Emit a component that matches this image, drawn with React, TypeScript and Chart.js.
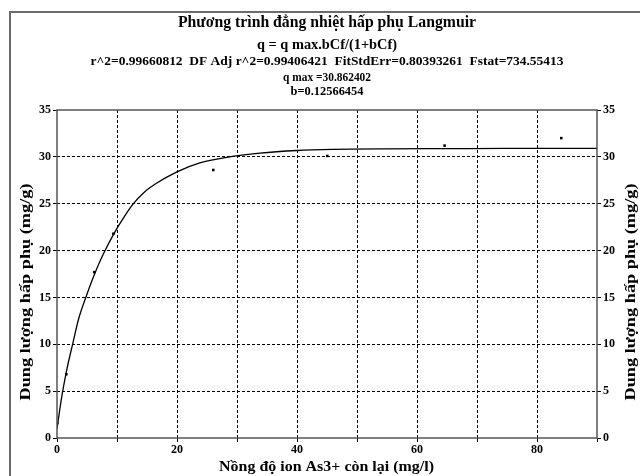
import React, { useEffect, useRef } from "react";
import { Chart, registerables } from "chart.js";

Chart.register(...registerables);

const titleLines = [
  "Phương trình đẳng nhiệt hấp phụ Langmuir",
  "q = q max.bCf/(1+bCf)",
  "r^2=0.99660812  DF Adj r^2=0.99406421  FitStdErr=0.80393261  Fstat=734.55413",
  "q max =30.862402",
  "b=0.12566454",
];
const xTitle = "Nồng độ ion As3+ còn lại (mg/l)";
const yTitle = "Dung lượng hấp phụ (mg/g)";

const obsX = [0.05, 1.55, 6.2, 9.4, 26.05, 45.05, 64.6, 84.05];
const obsY = [1.6, 6.8, 17.7, 21.8, 28.6, 30.1, 31.2, 32.0];

const curveX = [0, 0.5, 0.95, 1.6, 2.6, 3.6, 4.8, 6.2, 7.7, 9.4, 11, 12.6, 14.5, 16.5, 20, 23.8, 28.3, 33.8, 40, 46, 55, 65, 75, 90];
const curveY = [1.0, 3.2, 5.0, 7.2, 10.0, 12.7, 15.0, 17.4, 19.6, 21.7, 23.4, 24.9, 26.2, 27.15, 28.4, 29.35, 29.95, 30.4, 30.68, 30.8, 30.86, 30.88, 30.9, 30.9];

const xMin = 0, xMax = 90, xStep = 10;
const yMin = 0, yMax = 35, yStep = 5;
const xLabeled = [0, 20, 40, 60, 80];

const FONT = '"Liberation Serif", "Times New Roman", serif';

function fitText(ctx: any, text: string, x: number, y: number, size: number, width: number | null) {
  ctx.font = `bold ${size}px ${FONT}`;
  const w = ctx.measureText(text).width;
  ctx.save();
  ctx.translate(x, y);
  if (width) ctx.scale(width / w, 1);
  ctx.fillText(text, 0, 0);
  ctx.restore();
}

const decorPlugin = {
  id: "decor",
  beforeDraw(chart: any) {
    const ctx = chart.ctx;
    ctx.save();
    ctx.fillStyle = "#fff";
    ctx.fillRect(0, 0, chart.width, chart.height);
    ctx.strokeStyle = "#6b6b6b";
    ctx.lineWidth = 2;
    ctx.beginPath();
    ctx.moveTo(10, chart.height);
    ctx.lineTo(10, 12);
    ctx.lineTo(chart.width, 12);
    ctx.stroke();
    ctx.restore();
  },
  afterDraw(chart: any) {
    const ctx = chart.ctx;
    const a = chart.chartArea;
    ctx.save();
    ctx.strokeStyle = "#555";
    ctx.lineWidth = 1.5;
    ctx.strokeRect(a.left, a.top, a.right - a.left, a.bottom - a.top);
    ctx.fillStyle = "#000";
    ctx.textAlign = "center";
    ctx.textBaseline = "middle";
    const cx = (a.left + a.right) / 2;
    const sizes = [16, 14.5, 11.5, 12, 12];
    const widths = [298, 140, 473, 88, 73];
    const ys = [23, 45, 62, 78, 92];
    titleLines.forEach((t, i) => fitText(ctx, t, cx, ys[i], sizes[i], widths[i]));
    fitText(ctx, xTitle, 326.5, 467, 15, 215);
    [26, 631].forEach((x) => {
      ctx.save();
      ctx.translate(x, 292);
      ctx.rotate(-Math.PI / 2);
      fitText(ctx, yTitle, 0, 0, 15, 217);
      ctx.restore();
    });
    ctx.restore();
  },
};

export default function App() {
  const ref = useRef<HTMLCanvasElement | null>(null);
  useEffect(() => {
    if (!ref.current) return;
    const tickFont = { family: FONT, size: 12, weight: "bold" as const };
    const chart = new Chart(ref.current, {
      type: "scatter",
      data: {
        datasets: [
          {
            label: "fit",
            data: curveX.map((x, i) => ({ x, y: curveY[i] })),
            showLine: true,
            borderColor: "#000",
            borderWidth: 1.3,
            pointRadius: 0,
            cubicInterpolationMode: "monotone",
          } as any,
          {
            label: "data",
            data: obsX.map((x, i) => ({ x, y: obsY[i] })),
            showLine: false,
            pointStyle: "rect",
            pointRadius: 1.8,
            backgroundColor: "#000",
            borderColor: "#000",
            borderWidth: 0,
          } as any,
        ],
      },
      options: {
        animation: false,
        responsive: false,
        maintainAspectRatio: false,
        layout: { padding: { top: 110, left: 0, right: 0, bottom: 0 } },
        plugins: { legend: { display: false }, tooltip: { enabled: false }, title: { display: false } },
        scales: {
          x: {
            type: "linear",
            min: xMin,
            max: xMax,
            ticks: {
              stepSize: xStep,
              color: "#000",
              font: tickFont,
              maxRotation: 0,
              autoSkip: false,
              padding: 1,
              callback: (v: any) => (xLabeled.includes(Number(v)) ? String(v) : ""),
            },
            grid: {
              color: (c: any) => (c.tick && (c.tick.value === xMin || c.tick.value === xMax) ? "rgba(0,0,0,0)" : "#000"),
              tickColor: "#000",
              tickLength: 4,
              tickBorderDash: [],
              lineWidth: 1,
            } as any,
            border: { display: false, dash: [3, 2] },
            afterFit: (s: any) => {
              s.height = 38;
            },
          },
          y: {
            type: "linear",
            position: "left",
            min: yMin,
            max: yMax,
            ticks: { stepSize: yStep, color: "#000", font: tickFont, padding: 2 },
            grid: {
              color: (c: any) => (c.tick && (c.tick.value === yMin || c.tick.value === yMax) ? "rgba(0,0,0,0)" : "#000"),
              tickColor: "#000",
              tickLength: 4,
              tickBorderDash: [],
              lineWidth: 1,
            } as any,
            border: { display: false, dash: [3, 2] },
            afterFit: (s: any) => {
              s.width = 57;
            },
          },
          y2: {
            type: "linear",
            position: "right",
            min: yMin,
            max: yMax,
            ticks: { stepSize: yStep, color: "#000", font: tickFont, padding: 2 },
            grid: {
              drawOnChartArea: false,
              tickColor: "#000",
              tickLength: 4,
              color: "#000",
            },
            border: { display: false },
            afterFit: (s: any) => {
              s.width = 43;
            },
          },
        },
      },
      plugins: [decorPlugin],
    });
    return () => chart.destroy();
  }, []);
  return (
    <div style={{ position: "absolute", left: 0, top: 0, width: 640, height: 476, background: "#fff" }}>
      <canvas ref={ref} width={640} height={476} style={{ width: 640, height: 476, display: "block" }} />
    </div>
  );
}
